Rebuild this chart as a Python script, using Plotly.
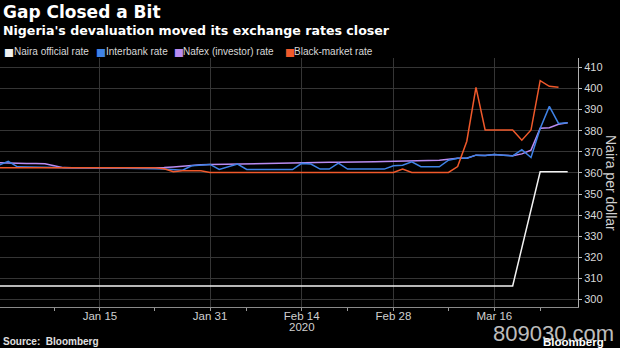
import plotly.graph_objects as go

dates = [
    "2019-12-31", "2020-01-01", "2020-01-02", "2020-01-03", "2020-01-06", "2020-01-07",
    "2020-01-08", "2020-01-09", "2020-01-10", "2020-01-13", "2020-01-14", "2020-01-15",
    "2020-01-16", "2020-01-17", "2020-01-20", "2020-01-21", "2020-01-22", "2020-01-23",
    "2020-01-24", "2020-01-27", "2020-01-28", "2020-01-29", "2020-01-30", "2020-01-31",
    "2020-02-03", "2020-02-04", "2020-02-05", "2020-02-06", "2020-02-07", "2020-02-10",
    "2020-02-11", "2020-02-12", "2020-02-13", "2020-02-14", "2020-02-17", "2020-02-18",
    "2020-02-19", "2020-02-20", "2020-02-21", "2020-02-24", "2020-02-25", "2020-02-26",
    "2020-02-27", "2020-02-28", "2020-03-02", "2020-03-03", "2020-03-04", "2020-03-05",
    "2020-03-06", "2020-03-09", "2020-03-10", "2020-03-11", "2020-03-12", "2020-03-13",
    "2020-03-16", "2020-03-17", "2020-03-18", "2020-03-19", "2020-03-20", "2020-03-23",
    "2020-03-24", "2020-03-25", "2020-03-26",
]

official = [306.5] * 57 + [None, None, 360.5, 360.5, 360.5, 360.5]

interbank = [
    363.7, 365.5, 362.9, 362.9, 362.9, 362.8, 362.6, 362.4, 362.3, 362.3, 362.3, 362.3,
    362.3, 362.3, 362.3, 362.2, 362.2, 362.0, 361.8, 361.5, 361.3, 363.4, 363.6, 364.0,
    361.6, 362.8, 364.2, 361.6, 361.6, 361.6, 361.6, 361.6, 361.6, 364.5, 364.2, 361.8,
    361.8, 364.6, 361.8, 361.8, 361.8, 361.8, 361.8, 363.4, 363.6, 365.2, 362.9, 362.9,
    362.9, 366.0, 366.9, 366.9, 368.4, 368.2, 368.7, 368.4, 368.0, 371.0, 367.3, 381.0,
    391.5, 383.4, 383.7,
]

nafex = [
    364.8, 364.6, 364.5, 364.5, 364.5, 364.3, 363.4, 362.5, 362.4, 362.3, 362.3, 362.3,
    362.3, 362.3, 362.3, 362.3, 362.3, 362.4, 362.5, 362.8, 363.2, 363.5, 363.8, 364.0,
    364.1, 364.2, 364.3, 364.3, 364.4, 364.5, 364.5, 364.6, 364.7, 364.8, 364.8, 364.9,
    365.0, 365.0, 365.0, 365.1, 365.2, 365.3, 365.4, 365.5, 365.7, 365.8, 365.9, 366.0,
    366.0, 366.5, 366.9, 366.9, 368.4, 368.2, 368.7, 368.4, 368.1, 369.0, 370.8, 381.1,
    381.4, 383.0, 383.7,
]

black_market = [
    362.4, 362.4, 362.4, 362.4, 362.4, 362.4, 362.4, 362.4, 362.3, 362.3, 362.3, 362.3,
    362.3, 362.3, 362.3, 362.3, 362.4, 362.4, 362.0, 360.5, 361.0, 361.0, 361.0, 360.2,
    360.2, 360.2, 360.2, 360.2, 360.2, 360.2, 360.2, 360.2, 360.2, 360.2, 360.2, 360.2,
    360.2, 360.2, 360.2, 360.2, 360.2, 360.2, 360.2, 360.2, 361.8, 360.2, 360.2, 360.2,
    360.2, 360.2, 363.0, 375.0, 400.5, 380.3, 380.3, 380.3, 380.3, 375.5, 380.3, 403.7,
    401.0, 400.5, None,
]

series_names = ["Naira official rate", "Interbank rate", "Nafex (investor) rate", "Black-market rate"]
series_colors = ["#f2f2f2", "#3f82e6", "#b98cf2", "#f0592b"]

x_tickvals = ["2020-01-15", "2020-01-31", "2020-02-14", "2020-02-28", "2020-03-16"]
x_ticktext = ["Jan 15", "Jan 31", "Feb 14", "Feb 28", "Mar 16"]
year_label = "2020"
x_minor = ["2019-12-31", "2020-01-08", "2020-01-23", "2020-02-06", "2020-02-21", "2020-03-09", "2020-03-23"]
y_tickvals = [300, 310, 320, 330, 340, 350, 360, 370, 380, 390, 400, 410]

LS = "Liberation Sans"
DV = "DejaVu Sans"

fig = go.Figure()
for name, ys, col, gaps in [
    (series_names[0], official, series_colors[0], True),
    (series_names[2], nafex, series_colors[2], False),
    (series_names[1], interbank, series_colors[1], False),
    (series_names[3], black_market, series_colors[3], False),
]:
    fig.add_trace(go.Scatter(x=dates, y=ys, mode="lines", name=name,
                             line=dict(color=col, width=1.5), connectgaps=gaps,
                             showlegend=False))

fig.update_layout(
    width=620, height=348,
    margin=dict(l=0, r=42, t=58, b=41),
    paper_bgcolor="#000000", plot_bgcolor="#000000",
    font=dict(family=LS, color="#d0d0d0", size=12),
    showlegend=False,
)

fig.update_xaxes(
    type="date",
    rangebreaks=[dict(bounds=["sat", "mon"])],
    range=["2019-12-31 02:24", "2020-03-27 03:00"],
    tickmode="array", tickvals=x_tickvals, ticktext=x_ticktext,
    ticks="outside", ticklen=3, tickcolor="#9a9a9a",
    ticklabelstandoff=-5,
    tickfont=dict(family=LS, size=11.5, color="#d0d0d0"),
    showgrid=True, gridcolor="#353535", gridwidth=1,
    showline=True, linecolor="#8a8a8a", linewidth=1,
    zeroline=False,
    minor=dict(tickmode="array", tickvals=x_minor, ticks="outside", ticklen=3,
               tickcolor="#9a9a9a", showgrid=False),
)

fig.update_yaxes(
    side="right", range=[296.5, 414.4],
    tickmode="array", tickvals=y_tickvals,
    ticks="outside", ticklen=3, tickcolor="#bbbbbb",
    tickfont=dict(family=LS, size=11, color="#d8d8d8"),
    showgrid=True, gridcolor="#353535", gridwidth=1,
    showline=True, linecolor="#b0b0b0", linewidth=1,
    zeroline=False,
)

annotations = [
    dict(text="<b>Gap Closed a Bit</b>", x=2, y=12, font=dict(size=17, color="#ffffff", family=DV)),
    dict(text="<b>Nigeria's devaluation moved its exchange rates closer</b>", x=2, y=31,
         font=dict(size=12.6, color="#ffffff", family=DV)),
    dict(text="<b>Source:  Bloomberg</b>", x=2, y=341, font=dict(size=10, color="#e0e0e0", family=LS)),
    dict(text="<b>Bloomberg</b>", x=542, y=342, font=dict(size=11.5, color="#ffffff", family=LS)),
    dict(text="809030.com", x=492, y=333, font=dict(size=22, color="rgba(225,225,225,0.85)", family=LS)),
]
square_x = [3, 95, 173, 284]
text_x = [13, 105, 182, 293]
for sx, tx, nm, col in zip(square_x, text_x, series_names, series_colors):
    annotations.append(dict(text="■", x=sx, y=52, font=dict(size=10.5, color=col, family=DV)))
    annotations.append(dict(text=nm, x=tx, y=52, font=dict(size=10, color="#d8d8d8", family=LS)))

for a in annotations:
    fig.add_annotation(xref="paper", yref="paper", x=a["x"] / 578, y=1 - (a["y"] - 58) / 249,
                       xanchor="left", yanchor="middle", showarrow=False, text=a["text"],
                       font=a["font"], borderpad=0)

# year label under Feb 14 tick
fig.add_annotation(xref="x", yref="paper", x=x_tickvals[2], y=1 - (327 - 58) / 249,
                   xanchor="center", yanchor="middle", showarrow=False, text=year_label,
                   font=dict(family=LS, size=11.5, color="#d0d0d0"), borderpad=0)

fig.add_annotation(xref="paper", yref="paper", x=611 / 578, y=1 - (183 - 58) / 249,
                   xanchor="center", yanchor="middle", showarrow=False, textangle=90,
                   text="Naira per dollar", font=dict(size=14, color="#d0d0d0", family=LS))

fig.write_html("out.html")
